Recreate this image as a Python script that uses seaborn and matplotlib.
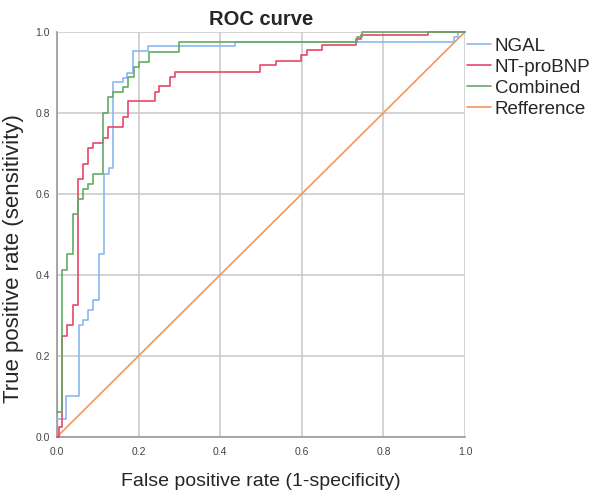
import pandas as pd
import numpy as np
import matplotlib
matplotlib.use("Agg")
import matplotlib.pyplot as plt
import seaborn as sns

# ROC vertices (fpr, tpr)
ngal_fpr = [0.0, 0.0, 0.023, 0.053, 0.064, 0.076, 0.088, 0.102, 0.115, 0.127, 0.137, 0.162, 0.171, 0.186, 0.223, 0.436, 0.972, 0.982, 1.0]
ngal_tpr = [0.0, 0.088, 0.10, 0.275, 0.288, 0.313, 0.339, 0.451, 0.649, 0.665, 0.876, 0.886, 0.899, 0.952, 0.964, 0.976, 0.988, 1.0, 1.0]

bnp_fpr = [0.0, 0.004, 0.012, 0.025, 0.038, 0.051, 0.064, 0.076, 0.088, 0.113, 0.125, 0.162, 0.173, 0.239, 0.251, 0.276, 0.288, 0.498, 0.537, 0.598, 0.612, 0.65, 0.733, 0.746, 0.91, 1.0]
bnp_tpr = [0.0, 0.025, 0.25, 0.275, 0.325, 0.636, 0.674, 0.712, 0.725, 0.738, 0.764, 0.789, 0.828, 0.851, 0.865, 0.888, 0.902, 0.917, 0.929, 0.943, 0.954, 0.968, 0.982, 0.993, 1.0, 1.0]

comb_fpr = [0.0, 0.0, 0.012, 0.025, 0.038, 0.051, 0.064, 0.076, 0.088, 0.113, 0.125, 0.137, 0.162, 0.173, 0.188, 0.2, 0.225, 0.30, 0.735, 0.747, 1.0]
comb_tpr = [0.0, 0.125, 0.412, 0.451, 0.55, 0.587, 0.612, 0.624, 0.649, 0.80, 0.839, 0.851, 0.864, 0.888, 0.913, 0.926, 0.95, 0.976, 0.988, 1.0, 1.0]

ref_fpr = [0.0, 1.0]
ref_tpr = [0.0, 1.0]

labels = ["NGAL", "NT-proBNP", "Combined", "Refference"]
colors = ["#8ab8f0", "#e8476a", "#62ab62", "#f5965c"]
ticks = [0.0, 0.2, 0.4, 0.6, 0.8, 1.0]

sns.set_style("white")
plt.rcParams["font.family"] = ["Liberation Sans", "DejaVu Sans"]

fig = plt.figure(figsize=(6, 4.97), dpi=100)
ax = fig.add_axes([0.095, 0.121, 0.68, 0.815])

roc = [(ngal_fpr, ngal_tpr), (bnp_fpr, bnp_tpr), (comb_fpr, comb_tpr)]
for (fx, ty), lab, col in zip(roc, labels[:3], colors[:3]):
    sns.lineplot(x=fx, y=ty, ax=ax, sort=False, color=col, label=lab,
                 drawstyle="steps-post", linewidth=1.2, clip_on=False, zorder=3)
# diagonal reference
sns.lineplot(x=ref_fpr, y=ref_tpr, ax=ax, sort=False, color=colors[3], label=labels[3],
             linewidth=1.2, clip_on=False, zorder=2)

ax.set_xlim(0, 1)
ax.set_ylim(0, 1)
ax.set_xticks(ticks)
ax.set_yticks(ticks)
ax.set_xticklabels([f"{v:.1f}" for v in ticks])
ax.set_yticklabels([f"{v:.1f}" for v in ticks])
ax.tick_params(axis="both", labelsize=7.5, length=0, colors="#444444")
ax.tick_params(axis="x", pad=7)
ax.tick_params(axis="y", pad=5)
ax.grid(True, color="#c8c8c8", linewidth=1.1)
ax.set_axisbelow(True)
for s in ["top", "right"]:
    ax.spines[s].set_visible(False)
for s in ["left", "bottom"]:
    ax.spines[s].set_color("#9a9a9a")
    ax.spines[s].set_linewidth(1.2)

ax.set_title("ROC curve", fontsize=14.5, fontweight="bold", pad=5)
ax.set_xlabel("False positive rate (1-specificity)", fontsize=14)
ax.xaxis.set_label_coords(0.5, -0.088)
ax.set_ylabel("True positive rate (sensitivity)", fontsize=16)
ax.yaxis.set_label_coords(-0.08, 0.44)

handles, labs = ax.get_legend_handles_labels()
ax.legend_.remove()
fig.legend(handles, labs, loc="upper left", bbox_to_anchor=(0.778, 0.924),
           frameon=False, fontsize=13.5, handlelength=1.3, handletextpad=0.2,
           labelspacing=0.2, borderaxespad=0, borderpad=0)

fig.savefig("out.png", dpi=100)
